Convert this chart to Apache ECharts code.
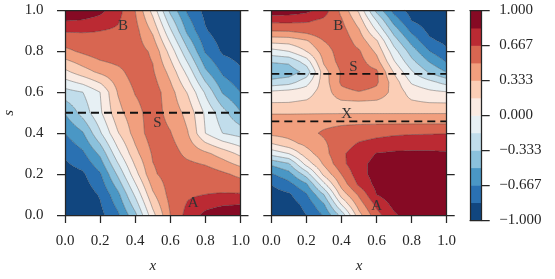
<!DOCTYPE html>
<html><head><meta charset="utf-8">
<script src="https://cdn.jsdelivr.net/npm/echarts@6/dist/echarts.min.js"></script>
<style>html,body{margin:0;padding:0;background:#fff}#c{width:555px;height:279px}</style>
</head><body><div id="c"></div>
<script>
// ---------- data ----------
const xNodes = [0,0.1,0.2,0.3,0.4,0.5,0.6,0.7,0.8,0.9,1.0];
const sNodesLeft = [0,0.1,0.2,0.3,0.4,0.5,0.6,0.7,0.8,0.9,1.0];
const sNodesRight = [0,0.05,0.1,0.15,0.2,0.25,0.3,0.35,0.4,0.45,0.5,0.55,0.6,0.65,0.7,0.75,0.8,0.85,0.9,0.95,1.0];

// rows: s ascending, columns: x ascending
const leftValues = [
  [-0.99,-0.96,-0.88,-0.70,-0.375,0.111,0.5,0.733,0.88,0.96,0.99],
  [-0.96,-0.93,-0.817,-0.549,-0.137,0.303,0.56,0.64,0.667,0.68,0.682],
  [-0.90,-0.86,-0.686,-0.307,0.102,0.472,0.58,0.62,0.6,0.53,0.456],
  [-0.81,-0.70,-0.466,-0.059,0.28,0.52,0.58,0.45,0.37,0.26,0.127],
  [-0.667,-0.52,-0.19,0.15,0.40,0.59,0.51,0.34,0.0,-0.17,-0.234],
  [-0.49,-0.27,-0.03,0.28,0.44,0.58,0.44,0.28,-0.03,-0.27,-0.49],
  [-0.234,-0.17,0.0,0.34,0.51,0.59,0.40,0.15,-0.19,-0.52,-0.667],
  [0.127,0.26,0.37,0.45,0.58,0.52,0.28,-0.059,-0.466,-0.70,-0.81],
  [0.456,0.53,0.6,0.62,0.58,0.472,0.102,-0.307,-0.686,-0.86,-0.90],
  [0.682,0.68,0.667,0.64,0.56,0.303,-0.137,-0.549,-0.817,-0.93,-0.96],
  [0.99,0.96,0.88,0.733,0.5,0.111,-0.375,-0.70,-0.88,-0.96,-0.99]
];
const rightValues = [
  [-0.99,-0.95,-0.833,-0.652,-0.273,0.277,0.61,0.808,0.93,0.98,1.0],
  [-0.95,-0.92,-0.784,-0.523,0.0,0.41,0.708,0.88,0.97,0.99,1.0],
  [-0.9,-0.86,-0.685,-0.333,0.238,0.53,0.835,0.93,0.98,0.99,0.99],
  [-0.833,-0.72,-0.528,-0.046,0.394,0.70,0.88,0.95,0.97,0.97,0.97],
  [-0.68,-0.563,-0.257,0.215,0.505,0.77,0.9,0.95,0.96,0.96,0.95],
  [-0.467,-0.35,0.062,0.36,0.62,0.79,0.88,0.92,0.93,0.93,0.92],
  [-0.105,0.0,0.26,0.44,0.64,0.75,0.84,0.86,0.86,0.86,0.85],
  [0.167,0.28,0.38,0.48,0.59,0.68,0.72,0.75,0.77,0.77,0.77],
  [0.38,0.40,0.46,0.52,0.56,0.59,0.62,0.64,0.65,0.655,0.66],
  [0.42,0.42,0.44,0.465,0.48,0.485,0.485,0.485,0.485,0.485,0.485],
  [0.32,0.32,0.32,0.32,0.32,0.32,0.32,0.32,0.32,0.32,0.32],
  [0.165,0.168,0.19,0.24,0.3,0.31,0.3,0.25,0.19,0.165,0.16],
  [0.04,0.07,0.1,0.24,0.45,0.49,0.45,0.277,0.1,0.04,0.015],
  [-0.287,-0.24,-0.07,0.25,0.53,0.61,0.53,0.25,-0.022,-0.12,-0.233],
  [-0.46,-0.43,-0.28,0.267,0.52,0.58,0.53,0.148,-0.148,-0.356,-0.51],
  [-0.32,-0.30,-0.09,0.36,0.57,0.56,0.40,0.015,-0.287,-0.507,-0.68],
  [-0.067,0.0,0.167,0.41,0.59,0.52,0.30,-0.10,-0.41,-0.66,-0.81],
  [0.22,0.23,0.31,0.50,0.61,0.43,0.193,-0.245,-0.556,-0.8,-0.87],
  [0.5,0.51,0.56,0.63,0.57,0.355,0.0,-0.402,-0.706,-0.87,-0.93],
  [0.71,0.71,0.69,0.63,0.52,0.255,-0.167,-0.57,-0.835,-0.92,-0.96],
  [0.95,0.93,0.88,0.75,0.46,0.14,-0.38,-0.73,-0.9,-0.96,-0.98]
];

const levels = [-1,-0.8333,-0.6667,-0.5,-0.3333,-0.1667,0,0.1667,0.3333,0.5,0.6667,0.8333,1];
const bandColors = ['#11467f','#2a71b2','#4a97c5','#8bc1dc','#c1ddeb','#e7f0f4',
                    '#faebe3','#fbceb6','#f19f7e','#d86651','#bb2a33','#860a24'];
const axisTickLabels = ['0.0','0.2','0.4','0.6','0.8','1.0'];
const cbTickValues = [-1,-0.6667,-0.3333,0,0.3333,0.6667,1];
const cbTickLabels = ['\u22121.000','\u22120.667','\u22120.333','0.000','0.333','0.667','1.000'];
const leftMarks = [['B',0.33,0.923],['S',0.526,0.449],['A',0.731,0.056]];
const rightMarks = [['B',0.382,0.923],['S',0.468,0.724],['X',0.43,0.493],['A',0.601,0.044]];
const leftDashed = [0.5];
const rightDashed = [0.69,0.458];

// ---------- rendering helpers ----------
const FONT = 'Liberation Serif';
const INK = '#262626';
const CACHE = {};
function fmt(n){ return Math.round(n*100)/100; }
function getTriangles(key, api, xs, ss, Z, subX, subS){
  const o = api.coord([0,0]);
  const ck = key + '|' + fmt(o[0]) + ',' + fmt(o[1]);
  if (CACHE[ck]) return CACHE[ck];
  const nxf = (xs.length-1)*subX+1, nsf = (ss.length-1)*subS+1;
  const P = [];
  for (let j=0;j<nsf;j++){
    const cj = Math.min(Math.floor(j/subS), ss.length-2);
    const b = (j - cj*subS)/subS;
    const s = ss[cj] + (ss[cj+1]-ss[cj])*b;
    const row = [];
    for (let i=0;i<nxf;i++){
      const ci = Math.min(Math.floor(i/subX), xs.length-2);
      const a = (i - ci*subX)/subX;
      const x = xs[ci] + (xs[ci+1]-xs[ci])*a;
      const v = (1-a)*(1-b)*Z[cj][ci] + a*(1-b)*Z[cj][ci+1] + (1-a)*b*Z[cj+1][ci] + a*b*Z[cj+1][ci+1];
      const p = api.coord([x,s]);
      row.push({x:p[0], y:p[1], v:v});
    }
    P.push(row);
  }
  const tris = [];
  for (let j=0;j<nsf-1;j++) for (let i=0;i<nxf-1;i++){
    const p00=P[j][i], p10=P[j][i+1], p01=P[j+1][i], p11=P[j+1][i+1];
    tris.push([p00,p10,p11]); tris.push([p00,p11,p01]);
  }
  CACHE[ck] = tris;
  return tris;
}
function clip(poly, L, keepAbove){
  const out = []; const n = poly.length;
  for (let k=0;k<n;k++){
    const a = poly[k], b = poly[(k+1)%n];
    const ina = keepAbove ? a.v >= L : a.v <= L;
    const inb = keepAbove ? b.v >= L : b.v <= L;
    if (ina) out.push(a);
    if (ina !== inb){
      const t = (L - a.v)/(b.v - a.v);
      out.push({x:a.x+t*(b.x-a.x), y:a.y+t*(b.y-a.y), v:L});
    }
  }
  return out;
}
function polyPath(poly){
  let s = 'M'+fmt(poly[0].x)+' '+fmt(poly[0].y);
  for (let k=1;k<poly.length;k++) s += 'L'+fmt(poly[k].x)+' '+fmt(poly[k].y);
  return s+'Z';
}
function bandPath(tris, lo, hi){
  const parts = [];
  for (const t of tris){
    const mn = Math.min(t[0].v,t[1].v,t[2].v), mx = Math.max(t[0].v,t[1].v,t[2].v);
    if (mx <= lo || mn >= hi) continue;
    let poly = t;
    if (mn < lo) poly = clip(poly, lo, true);
    if (poly.length >= 3 && mx > hi) poly = clip(poly, hi, false);
    if (poly.length >= 3) parts.push(polyPath(poly));
  }
  return parts.join('');
}
function linePath(tris, L){
  const parts = [];
  for (const t of tris){
    const d = [t[0].v-L, t[1].v-L, t[2].v-L].map(q => q === 0 ? 1e-9 : q);
    const pts = [];
    for (let k=0;k<3;k++){
      const a=t[k], b=t[(k+1)%3], da=d[k], db=d[(k+1)%3];
      if ((da<0) !== (db<0)){
        const tt = da/(da-db);
        pts.push([a.x+tt*(b.x-a.x), a.y+tt*(b.y-a.y)]);
      }
    }
    if (pts.length === 2) parts.push('M'+fmt(pts[0][0])+' '+fmt(pts[0][1])+'L'+fmt(pts[1][0])+' '+fmt(pts[1][1]));
  }
  return parts.join('');
}

function panelSeries(key, xi, yi, Z, ss, subS, marks, dashed){
  const out = [];
  out.push({
    type:'custom', xAxisIndex:xi, yAxisIndex:yi, silent:true, z:1, animation:false,
    data: bandColors.map((c,k)=>[k,0]),
    renderItem: function(params, api){
      const k = api.value(0);
      const tris = getTriangles(key, api, xNodes, ss, Z, 6, subS);
      const lo = k === 0 ? -Infinity : levels[k];
      const hi = k === bandColors.length-1 ? Infinity : levels[k+1];
      const d = bandPath(tris, lo, hi);
      if (!d) return null;
      return {type:'path', shape:{pathData:d}, style:{fill:bandColors[k], stroke:null}};
    }
  });
  out.push({
    type:'custom', xAxisIndex:xi, yAxisIndex:yi, silent:true, z:2, animation:false,
    data: levels.slice(1,-1).map((L,k)=>[k,0]),
    renderItem: function(params, api){
      const k = api.value(0);
      const tris = getTriangles(key, api, xNodes, ss, Z, 6, subS);
      const d = linePath(tris, levels[k+1]);
      if (!d) return null;
      return {type:'path', shape:{pathData:d}, style:{fill:null, stroke:'rgba(45,45,45,0.6)', lineWidth:0.6}};
    }
  });
  dashed.forEach(sv => {
    out.push({
      type:'line', xAxisIndex:xi, yAxisIndex:yi, silent:true, z:3, symbol:'none', animation:false,
      data:[[0,sv],[1,sv]],
      lineStyle:{color:'#111', width:1.8, type:[8,5]}
    });
  });
  out.push({
    type:'custom', xAxisIndex:xi, yAxisIndex:yi, silent:true, z:4, animation:false,
    data: marks.map(m => [m[1], m[2]]),
    renderItem: function(params, api){
      const p = api.coord([api.value(0), api.value(1)]);
      return {type:'text', x:p[0], y:p[1], style:{text:marks[params.dataIndex][0], fill:'#333',
        font:'15px "'+FONT+'"', textAlign:'center', textVerticalAlign:'middle'}};
    }
  });
  return out;
}

const lineSt = {color:INK, width:1.25};
function tickLabel(v){ return axisTickLabels[Math.round(v/0.2)]; }
function cbLabel(v){
  let best=0, bd=1e9;
  cbTickValues.forEach((t,i)=>{ const dd=Math.abs(t-v); if (dd<bd){bd=dd;best=i;} });
  return cbTickLabels[best];
}
const labelBase = {fontFamily:FONT, fontSize:15, color:INK};
function xMain(g){
  return {gridIndex:g, type:'value', min:0, max:1, interval:0.2, position:'bottom', z:10,
    axisLine:{show:true, onZero:false, lineStyle:lineSt},
    axisTick:{show:true, inside:false, length:8, lineStyle:lineSt},
    axisLabel:Object.assign({show:true, margin:19, formatter:tickLabel}, labelBase),
    splitLine:{show:false},
    name:'x', nameLocation:'middle', nameGap:44,
    nameTextStyle:{fontFamily:FONT, fontStyle:'italic', fontSize:15, color:INK}};
}
function xTop(g){
  return {gridIndex:g, type:'value', min:0, max:1, position:'top', z:10,
    axisLine:{show:true, onZero:false, lineStyle:lineSt}, axisTick:{show:false}, axisLabel:{show:false}, splitLine:{show:false}};
}
function yTicks(g, pos, labels, name){
  const o = {gridIndex:g, type:'value', min:0, max:1, interval:0.2, position:pos, z:10,
    axisLine:{show:true, onZero:false, lineStyle:lineSt},
    axisTick:{show:true, inside:false, length:8, lineStyle:lineSt},
    axisLabel:Object.assign({show:labels, margin:21.5, formatter:tickLabel}, labelBase),
    splitLine:{show:false}};
  if (name){
    o.name = name; o.nameLocation='middle'; o.nameGap=48;
    o.nameTextStyle = {fontFamily:FONT, fontStyle:'italic', fontSize:15, color:INK};
  }
  return o;
}

const option = {
  animation:false,
  backgroundColor:'#ffffff',
  grid:[
    {left:65, top:10.5, width:175.5, height:209.5},
    {left:271.3, top:10.5, width:175.4, height:209.5},
    {left:470, top:10.5, width:11.7, height:209.5}
  ],
  xAxis:[
    xMain(0), xTop(0), xMain(1), xTop(1),
    {gridIndex:2, type:'value', min:0, max:1, position:'bottom', z:10,
      axisLine:{show:true, onZero:false, lineStyle:lineSt}, axisTick:{show:false}, axisLabel:{show:false}, splitLine:{show:false}},
    xTop(2)
  ],
  yAxis:[
    yTicks(0,'left',true,'s'), yTicks(0,'right',false), yTicks(1,'left',false), yTicks(1,'right',false),
    {gridIndex:2, type:'value', min:-1, max:1, position:'left', z:10,
      axisLine:{show:true, onZero:false, lineStyle:lineSt}, axisTick:{show:false}, axisLabel:{show:false}, splitLine:{show:false}},
    {gridIndex:2, type:'value', min:-1, max:1, interval:1/3, position:'right', z:10,
      axisLine:{show:true, onZero:false, lineStyle:lineSt},
      axisTick:{show:true, inside:false, length:8, lineStyle:lineSt, customValues:cbTickValues},
      axisLabel:Object.assign({show:true, margin:17.5, formatter:cbLabel, customValues:cbTickValues}, labelBase),
      splitLine:{show:false}}
  ],
  series:[].concat(
    panelSeries('L', 0, 0, leftValues, sNodesLeft, 6, leftMarks, leftDashed),
    panelSeries('R', 2, 2, rightValues, sNodesRight, 3, rightMarks, rightDashed),
    [{
      type:'custom', xAxisIndex:4, yAxisIndex:4, silent:true, z:1, animation:false,
      data: bandColors.map((c,k)=>[k,0]),
      renderItem: function(params, api){
        const k = api.value(0);
        const p0 = api.coord([0, levels[k]]), p1 = api.coord([1, levels[k+1]]);
        return {type:'rect', shape:{x:p0[0], y:p1[1], width:p1[0]-p0[0], height:p0[1]-p1[1]+0.5},
          style:{fill:bandColors[k]}};
      }
    }]
  )
};
const chart = echarts.init(document.getElementById('c'), null, {renderer:'canvas', width:555, height:279});
chart.setOption(option);
</script>
</body></html>
